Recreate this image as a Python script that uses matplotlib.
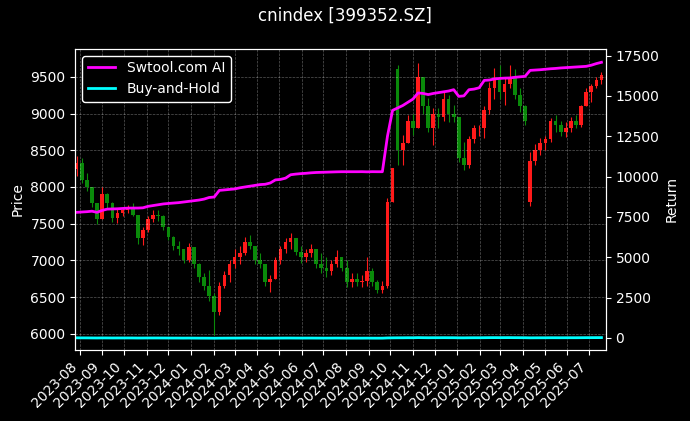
import pandas as pd
import matplotlib
matplotlib.use("Agg")
import matplotlib.pyplot as plt
import matplotlib.dates as mdates

# ====== Data (weekly) ======
week_end = pd.date_range("2023-07-28", "2025-07-18", freq="W-FRI")

price_open = [8250, 8330, 8100, 8000, 7780, 7560, 7900, 7780, 7580, 7650,
              7680, 7700, 7620, 7300, 7420, 7560, 7620, 7600, 7450, 7320,
              7200, 7150, 7000, 7180, 6950, 6780, 6650, 6520, 6300, 6650,
              6800, 6950, 7050, 7100, 7250, 7200, 7000, 6950, 6700, 6750,
              7000, 7150, 7250, 7300, 7120, 7050, 7100, 7150, 6950, 6900,
              6850, 6950, 7050, 6900, 6700, 6750, 6700, 6720, 6850, 6700,
              6600, 6650, 7800, 9600, 8500, 8600, 8900, 8800, 9500, 9100,
              8800, 9000, 8950, 9200, 9000, 8950, 8400, 8300, 8650, 8800,
              8800, 9050, 9350, 9450, 9300, 9400, 9500, 9250, 9100, 7800,
              8350, 8500, 8600, 8650, 8900, 8850, 8750, 8800, 8900, 8850,
              9100, 9300, 9380, 9450]
price_high = [8415, 8400, 8190, 7990, 7780, 8000, 7920, 7800, 7720, 7730,
              7760, 7780, 7620, 7450, 7600, 7690, 7690, 7620, 7460, 7330,
              7260, 7160, 7240, 7180, 6960, 6830, 6870, 6550, 6700, 6850,
              7000, 7150, 7190, 7320, 7350, 7200, 7100, 6950, 6800, 7050,
              7200, 7300, 7375, 7300, 7190, 7150, 7230, 7150, 7100, 7050,
              7000, 7140, 7050, 7000, 6830, 6830, 6800, 7050, 6900, 6730,
              6720, 7850, 8260, 9660, 8710, 8980, 9000, 9690, 9500, 9210,
              9080, 9080, 9300, 9250, 9120, 8950, 8610, 8700, 8850, 8850,
              9100, 9430, 9620, 9660, 9490, 9660, 9600, 9350, 9120, 8480,
              8580, 8670, 8700, 8940, 8980, 8900, 8890, 8950, 8980, 9120,
              9350, 9400, 9500, 9560]
price_low = [8150, 8050, 7950, 7730, 7500, 7560, 7700, 7520, 7510, 7600,
             7640, 7600, 7220, 7212, 7380, 7520, 7540, 7420, 7280, 7140,
             7080, 6960, 6980, 6900, 6700, 6600, 6450, 5980, 6250, 6620,
             6700, 6900, 6950, 7080, 7150, 6950, 6900, 6650, 6576, 6750,
             6950, 7100, 7150, 7080, 6960, 6980, 7050, 6900, 6830, 6780,
             6800, 6910, 6850, 6640, 6640, 6650, 6640, 6650, 6650, 6550,
             6560, 6630, 7800, 8300, 8300, 8600, 8710, 8800, 9000, 8750,
             8570, 8800, 8900, 8890, 8890, 8340, 8230, 8260, 8600, 8700,
             8670, 9000, 9200, 9200, 9120, 9350, 9200, 9020, 8850, 7735,
             8300, 8440, 8500, 8610, 8750, 8700, 8680, 8750, 8800, 8820,
             9100, 9160, 9350, 9400]
price_close = [8330, 8100, 8000, 7780, 7560, 7900, 7780, 7580, 7650, 7680,
               7700, 7620, 7300, 7420, 7560, 7620, 7600, 7450, 7320, 7200,
               7150, 7000, 7180, 6950, 6780, 6650, 6520, 6300, 6650, 6800,
               6950, 7050, 7100, 7250, 7200, 7000, 6950, 6700, 6750, 7000,
               7150, 7250, 7300, 7120, 7050, 7100, 7150, 6950, 6900, 6850,
               6950, 7050, 6900, 6700, 6750, 6700, 6720, 6850, 6700, 6600,
               6650, 7800, 8260, 8500, 8600, 8900, 8800, 9500, 9100, 8800,
               9000, 8950, 9200, 9000, 8950, 8400, 8300, 8650, 8800, 8800,
               9050, 9350, 9450, 9300, 9400, 9500, 9250, 9100, 8900, 8350,
               8500, 8600, 8650, 8900, 8850, 8750, 8800, 8900, 8850, 9100,
               9300, 9380, 9450, 9530]

ai_return = [7780, 7800, 7820, 7850, 7780, 7900, 7980, 7990, 8000, 8020,
             8040, 8045, 8045, 8060, 8150, 8200, 8250, 8300, 8330, 8355,
             8380, 8420, 8460, 8500, 8540, 8600, 8700, 8730, 9140, 9170,
             9200, 9230, 9300, 9350, 9400, 9450, 9500, 9520, 9600, 9790,
             9820, 9900, 10110, 10150, 10180, 10200, 10230, 10250, 10260, 10270,
             10280, 10290, 10297, 10297, 10297, 10297, 10300, 10290, 10300, 10297,
             10297, 12500, 14100, 14250, 14400, 14600, 14800, 15180, 15150, 15080,
             15150, 15200, 15250, 15300, 15383, 14968, 15000, 15383, 15420, 15500,
             15960, 15980, 16050, 16080, 16100, 16110, 16150, 16180, 16210, 16580,
             16600, 16620, 16650, 16680, 16700, 16730, 16750, 16770, 16790, 16810,
             16830, 16900, 17000, 17080]

# buy-and-hold return in percent from the closes
bh_return = [(c / price_close[0] - 1) * 100 for c in price_close]

df = pd.DataFrame({"Open": price_open, "High": price_high, "Low": price_low,
                   "Close": price_close, "AI": ai_return, "BH": bh_return},
                  index=week_end)

# ====== Plot ======
plt.style.use("dark_background")
fig = plt.figure(figsize=(6.9, 4.21), dpi=100)
ax1 = fig.add_axes([0.109, 0.169, 0.769, 0.715])

up = df["Close"] >= df["Open"]
colors = ["#ff1a1a" if u else "#0a8a0a" for u in up]
ax1.vlines(df.index, df["Low"], df["High"], colors=colors, linewidth=0.8)
ax1.bar(df.index, (df["Close"] - df["Open"]).abs(), bottom=df[["Open", "Close"]].min(axis=1),
        width=5, color=colors, linewidth=0)

ax1.set_ylabel("Price")
ax1.set_ylim(5782, 9881)
ax1.set_yticks(range(6000, 10000, 500))
ax1.grid(True, color="white", linestyle="--", linewidth=0.5, alpha=0.35)

ax2 = ax1.twinx()
ax2.plot(df.index, df["AI"], color="magenta", linewidth=2, label="Swtool.com AI")
ax2.plot(df.index, df["BH"], color="cyan", linewidth=2, label="Buy-and-Hold")
ax2.set_ylabel("Return")
ax2.set_ylim(-745, 17915)
ax2.set_yticks(range(0, 20000, 2500))
ax2.legend(loc="upper left", edgecolor="white", framealpha=1, facecolor="black")

ax1.set_xlim(pd.Timestamp("2023-07-26"), pd.Timestamp("2025-07-24"))
ax1.xaxis.set_major_locator(mdates.MonthLocator())
ax1.xaxis.set_major_formatter(mdates.DateFormatter("%Y-%m"))
plt.setp(ax1.get_xticklabels(), rotation=45, ha="right")

fig.suptitle("cnindex [399352.SZ]", y=0.985)

plt.savefig("out.png")
plt.close()
